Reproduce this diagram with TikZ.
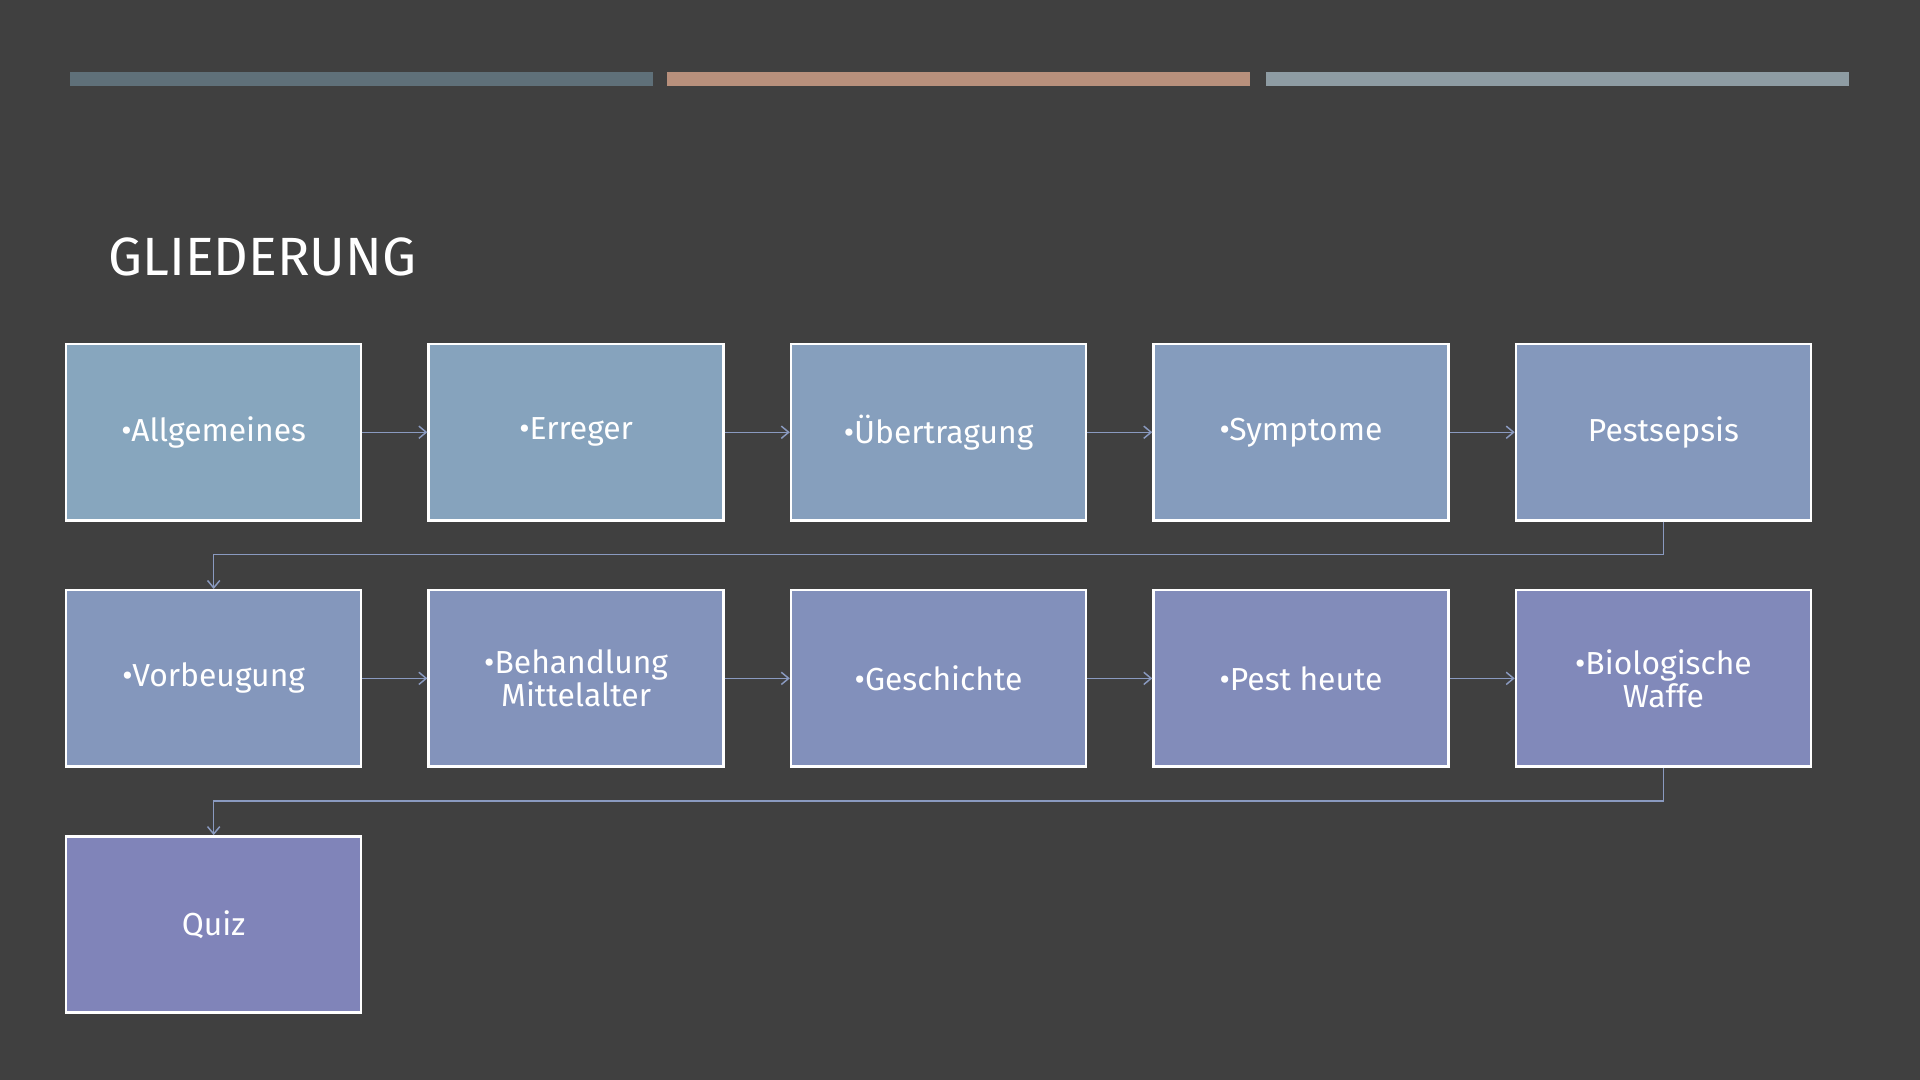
\documentclass[tikz,border=0pt]{standalone}
\usepackage{fontspec}
\setmainfont{Fira Sans}
\usetikzlibrary{positioning,arrows.meta}
\definecolor{bgcol}{HTML}{404040}
\definecolor{startcol}{HTML}{87A6BE}
\definecolor{endcol}{HTML}{8084B9}
\definecolor{lineA}{HTML}{5F7079}
\definecolor{lineB}{HTML}{B8907C}
\definecolor{lineC}{HTML}{8E9CA3}
\definecolor{linkcol}{HTML}{8A9AC0}
\tikzset{
  topic/.style={draw=white,line width=2pt,minimum width=241pt,minimum height=144pt,
    fill=endcol!#1!startcol,text=white,font=\fontsize{26}{27}\selectfont,align=center},
  link/.style={draw=linkcol,line width=1.2pt,-{Straight Barb[length=6pt,width=10pt]}}
}
\begin{document}
\begin{tikzpicture}[x=1pt,y=-1pt]
  \fill[bgcol] (0,0) rectangle (1568,882);
  \useasboundingbox (0,0) rectangle (1568,882);

  % Header bars
  \fill[lineA] (57,59) rectangle (533,70);
  \fill[lineB] (545,59) rectangle (1021,70);
  \fill[lineC] (1034,59) rectangle (1510,70);
  \node[anchor=base west,text=white,font=\fontsize{44}{46}\selectfont] (title) at (85,225) {GLIEDERUNG};

  % Topics
  \node[topic=0] (allg) at (174.5,353) {•Allgemeines};
  \node[topic=10, right=53pt of allg] (erreger) {•Erreger};
  \node[topic=20, right=53pt of erreger] (uebert) {•Übertragung};
  \node[topic=30, right=53pt of uebert] (sympt) {•Symptome};
  \node[topic=40, right=53pt of sympt] (sepsis) {Pestsepsis};

  \node[topic=45, below=55pt of allg] (vorb) {•Vorbeugung};
  \node[topic=55, right=53pt of vorb] (behand) {•Behandlung\\Mittelalter};
  \node[topic=65, right=53pt of behand] (gesch) {•Geschichte};
  \node[topic=75, right=53pt of gesch] (heute) {•Pest heute};
  \node[topic=85, right=53pt of heute] (waffe) {•Biologische\\Waffe};

  \node[topic=100, below=55pt of vorb] (quiz) {Quiz};

  % Links
  \draw[link] (allg) -- (erreger);
  \draw[link] (erreger) -- (uebert);
  \draw[link] (uebert) -- (sympt);
  \draw[link] (sympt) -- (sepsis);
  \draw[link] (sepsis.south) -- ++(0,27) -| (vorb.north);
  \draw[link] (vorb) -- (behand);
  \draw[link] (behand) -- (gesch);
  \draw[link] (gesch) -- (heute);
  \draw[link] (heute) -- (waffe);
  \draw[link] (waffe.south) -- ++(0,27) -| (quiz.north);
\end{tikzpicture}
\end{document}
